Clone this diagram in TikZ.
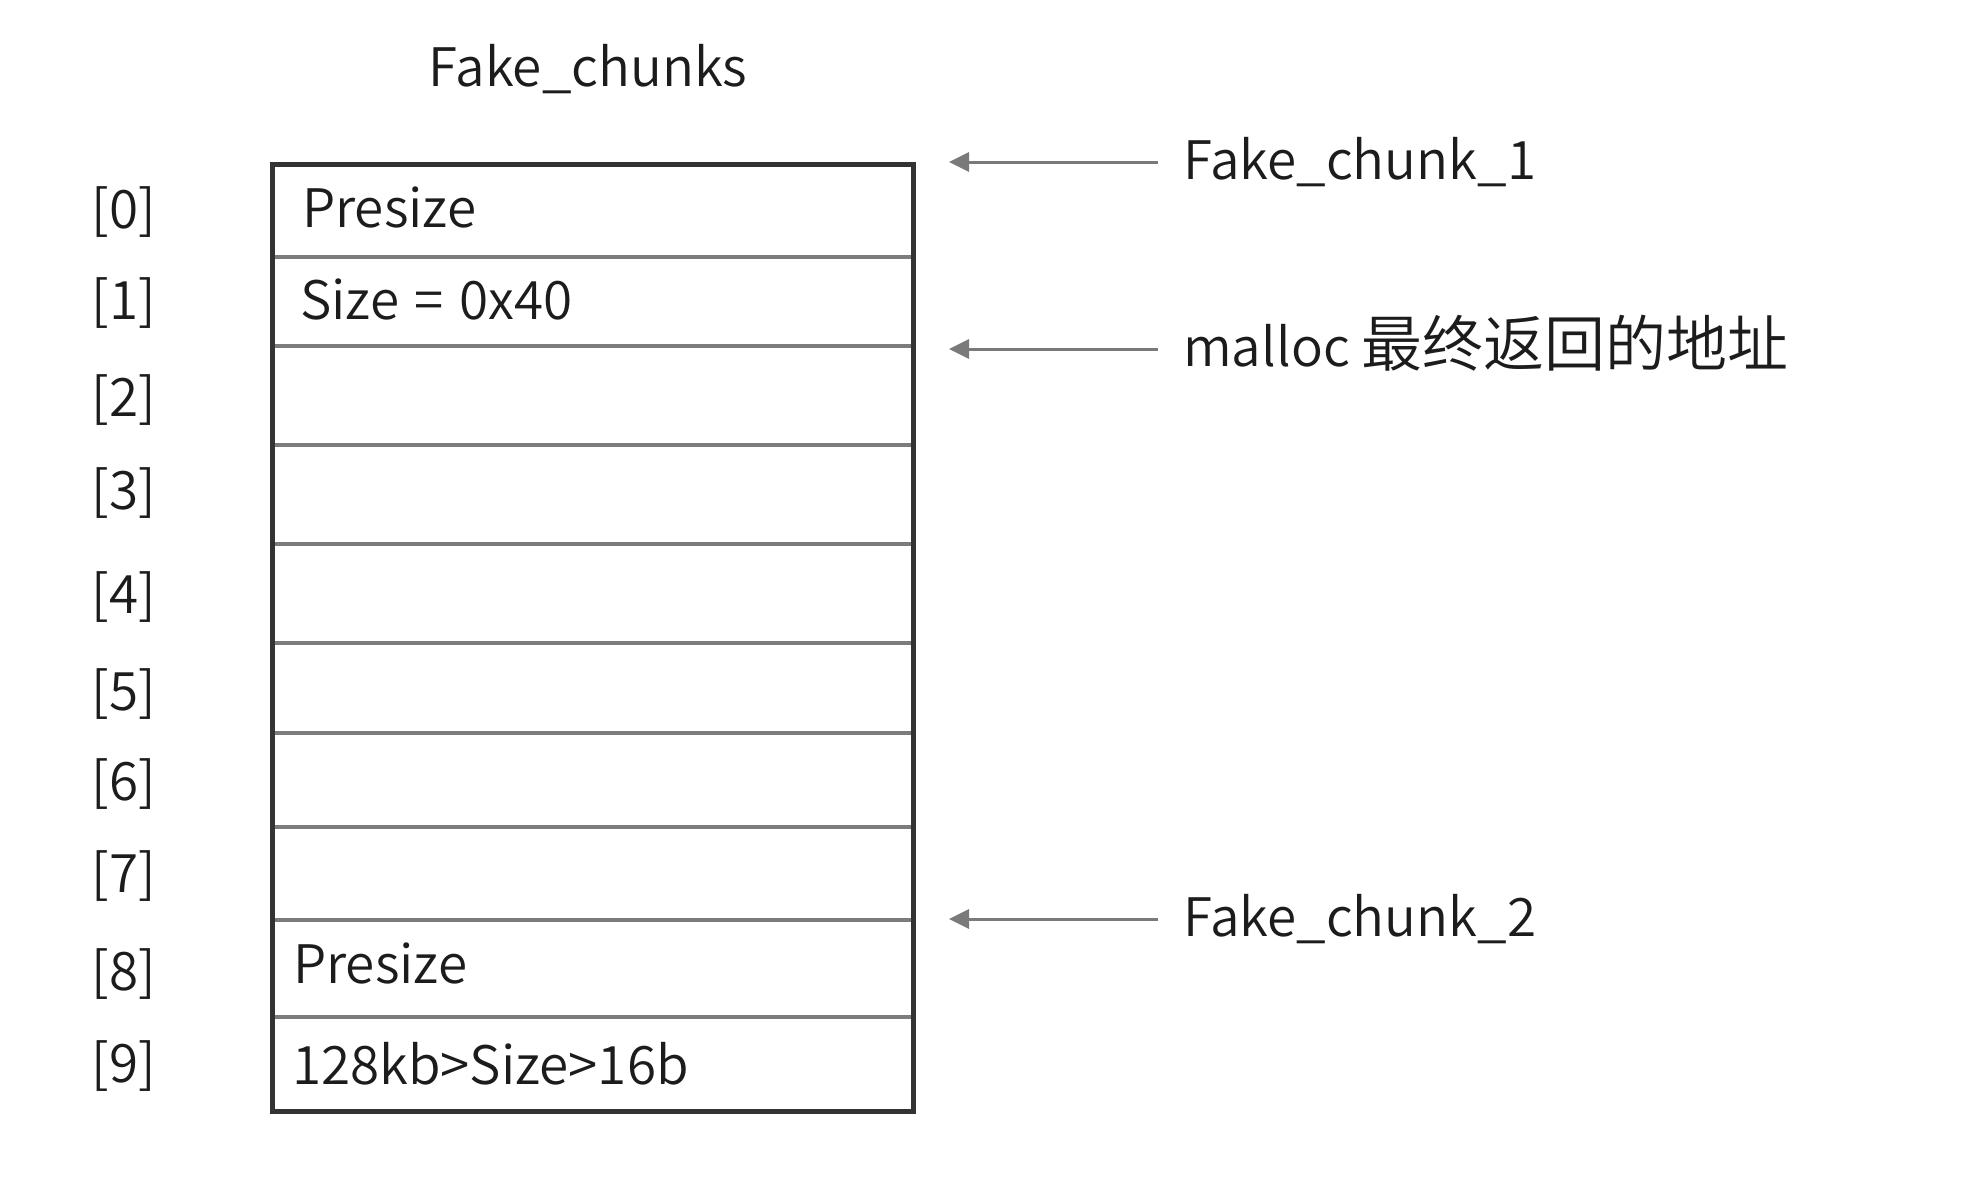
\documentclass[tikz,border=0pt]{standalone}
\usepackage{fontspec}
\setmainfont{Noto Sans CJK SC DemiLight}
\usetikzlibrary{arrows.meta}
\definecolor{txt}{HTML}{1C1C1C}
\definecolor{frame}{HTML}{333333}
\definecolor{sep}{HTML}{7C7C7C}
\definecolor{arr}{HTML}{7A7A7A}
\tikzset{
  lbl/.style={inner sep=0pt, text=txt, font=\fontsize{53}{60}\selectfont},
  idx/.style={lbl, anchor=center},
  cell/.style={lbl, anchor=base west},
  side/.style={lbl, anchor=base west},
  rowbox/.style={draw=sep, line width=3.5pt, inner sep=0pt, anchor=north west, minimum width=641pt},
  ptr/.style={draw=arr, line width=3pt, -{Triangle[length=20pt,width=19pt]}},
}
\begin{document}
\begin{tikzpicture}[x=1pt,y=-1pt]
\useasboundingbox (0,0) rectangle (1973,1200);
% rows
\node[rowbox, minimum height=93pt] (r0) at (270,162) {};
\node[rowbox, minimum height=89pt] (r1) at (270,255) {};
\node[rowbox, minimum height=99pt] (r2) at (270,344) {};
\node[rowbox, minimum height=99pt] (r3) at (270,443) {};
\node[rowbox, minimum height=99pt] (r4) at (270,542) {};
\node[rowbox, minimum height=90pt] (r5) at (270,641) {};
\node[rowbox, minimum height=94pt] (r6) at (270,731) {};
\node[rowbox, minimum height=93pt] (r7) at (270,825) {};
\node[rowbox, minimum height=97pt] (r8) at (270,918) {};
\node[rowbox, minimum height=94pt] (r9) at (270,1015) {};
% outer frame
\node[draw=frame, line width=5pt, inner sep=0pt, minimum width=641pt, minimum height=947pt, anchor=north west] (box) at (270,162) {};
% title
\node[lbl, anchor=base] (title) at (588,86) {Fake\_chunks};
% index labels
\node[idx] (i0) at (124,212) {[0]};
\node[idx] (i1) at (124,303) {[1]};
\node[idx] (i2) at (124,400) {[2]};
\node[idx] (i3) at (124,493.5) {[3]};
\node[idx] (i4) at (124,597.5) {[4]};
\node[idx] (i5) at (124,694) {[5]};
\node[idx] (i6) at (124,784) {[6]};
\node[idx] (i7) at (124,876) {[7]};
\node[idx] (i8) at (124,974) {[8]};
\node[idx] (i9) at (124,1066) {[9]};
% cell texts
\node[cell] (t0) at (302,227) {Presize};
\node[cell] (t1) at (300,319) {Size\hspace{4pt} = \hspace{4pt}0x40};
\node[cell] (t8) at (293,983) {Presize};
\node[cell] (t9) at (292,1084) {128kb>Size>16b};
% side labels
\node[side] (f1) at (1183,179) {Fake\_chunk\_1};
\node[side] (ml) at (1183,366) {malloc {\fontsize{61}{70}\selectfont 最终返回的地址}};
\node[side] (f2) at (1183,936) {Fake\_chunk\_2};
% arrow ends
\coordinate (s1) at (1158,162);
\coordinate (e1) at (949,162);
\coordinate (s2) at (1158,349);
\coordinate (e2) at (949,349);
\coordinate (s3) at (1158,919);
\coordinate (e3) at (949,919);
\draw[ptr] (s1) -- (e1);
\draw[ptr] (s2) -- (e2);
\draw[ptr] (s3) -- (e3);
\end{tikzpicture}
\end{document}
